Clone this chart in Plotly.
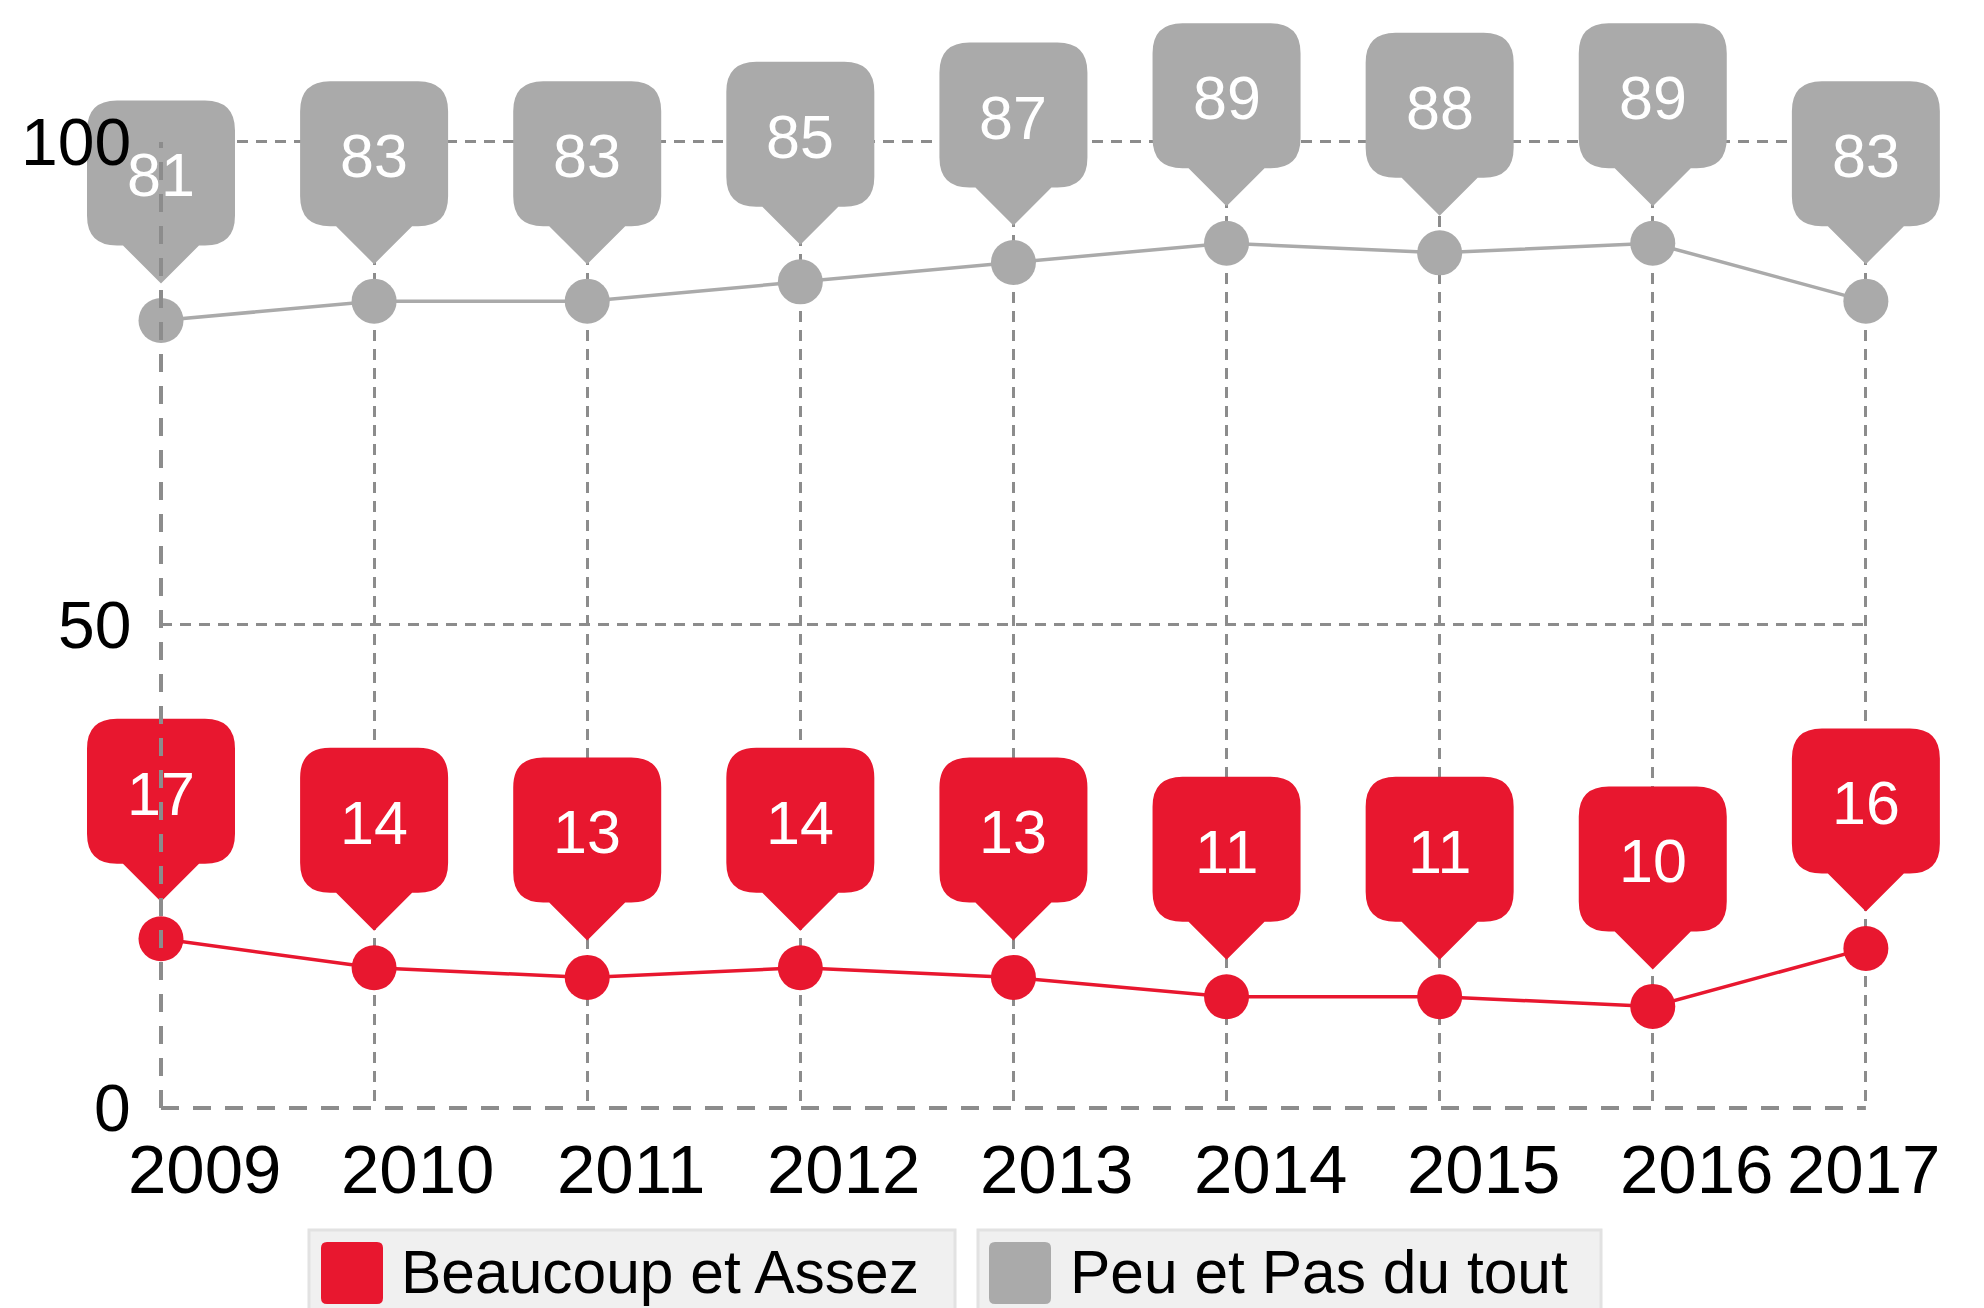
import plotly.graph_objects as go

# ---------------- data ----------------
years = [2009, 2010, 2011, 2012, 2013, 2014, 2015, 2016, 2017]
year_labels = ["2009", "2010", "2011", "2012", "2013", "2014", "2015", "2016", "2017"]
beaucoup_assez = [17, 14, 13, 14, 13, 11, 11, 10, 16]
peu_pas_du_tout = [81, 83, 83, 85, 87, 89, 88, 89, 83]
series_names = ["Beaucoup et Assez", "Peu et Pas du tout"]
y_ticks = [0, 50, 100]

# ---------------- style ----------------
RED = "#e8172f"
GREY = "#aaaaaa"
GRID = "#8c8c8c"
FONT = "Liberation Sans, Arial, Helvetica, sans-serif"

PAGE_OFF = 8  # default body margin of the html page
W, H = 1984 - PAGE_OFF, 1308 - PAGE_OFF
ML, MR, MT, MB = 161 - PAGE_OFF, 116, 140 - PAGE_OFF, 200
XR = [2009, 2017.01]
YR = [0, 100.2]
PW = W - ML - MR
PH = H - MT - MB
BASE_Y = H - MB  # figure pixel y of plot bottom

# the series layer sits a few pixels above the grid in the original
SHIFT_Y = 5
PXU_Y = PH / (YR[1] - YR[0])
YR2 = [YR[0] - SHIFT_Y / PXU_Y, YR[1] - SHIFT_Y / PXU_Y]


def xpaper(v):
    return (v - XR[0]) / (XR[1] - XR[0])


def ypaper2(v):
    return (v - YR2[0]) / (YR2[1] - YR2[0])


def px_x(px):  # px given in screen (page) coordinates
    return (px - PAGE_OFF - ML) / PW


def px_y(py):
    return (BASE_Y - (py - PAGE_OFF)) / PH


def bubble_path(w=148, h=145, r=30, tip=37, th=38, tw=38):
    L, R = -w / 2, w / 2
    B = tip + th
    T = B + h
    return (f"M 0,{tip} L {-tw},{B} L {L + r},{B} Q {L},{B} {L},{B + r} "
            f"L {L},{T - r} Q {L},{T} {L + r},{T} L {R - r},{T} Q {R},{T} {R},{T - r} "
            f"L {R},{B + r} Q {R},{B} {R - r},{B} L {tw},{B} Z")


def rrect_path(x0, y0, x1, y1, r):
    # page pixel coords (y down) -> pixel offsets relative to plot origin (y up)
    a, b = x0 - PAGE_OFF - ML, BASE_Y - (y1 - PAGE_OFF)
    c, d = x1 - PAGE_OFF - ML, BASE_Y - (y0 - PAGE_OFF)
    if r <= 0:
        return f"M {a},{b} L {c},{b} L {c},{d} L {a},{d} Z"
    return (f"M {a + r},{b} L {c - r},{b} Q {c},{b} {c},{b + r} L {c},{d - r} "
            f"Q {c},{d} {c - r},{d} L {a + r},{d} Q {a},{d} {a},{d - r} "
            f"L {a},{b + r} Q {a},{b} {a + r},{b} Z")


fig = go.Figure()

for vals, name, col in [(peu_pas_du_tout, series_names[1], GREY),
                        (beaucoup_assez, series_names[0], RED)]:
    fig.add_trace(go.Scatter(
        x=years, y=vals, name=name, mode="lines+markers",
        xaxis="x", yaxis="y2",
        line=dict(color=col, width=3.5),
        marker=dict(color=col, size=45),
        cliponaxis=False, showlegend=False, hoverinfo="x+y+name",
    ))

shapes = []
annotations = []

# bubbles
for vals, col in [(peu_pas_du_tout, GREY), (beaucoup_assez, RED)]:
    for yr, v in zip(years, vals):
        shapes.append(dict(
            type="path", xref="paper", yref="paper",
            xsizemode="pixel", ysizemode="pixel",
            xanchor=xpaper(yr), yanchor=ypaper2(v),
            path=bubble_path(), fillcolor=col, line=dict(width=0), layer="above",
        ))
        annotations.append(dict(
            x=yr, y=v, xref="x", yref="y", text=str(v), showarrow=False,
            yshift=145 + SHIFT_Y, xanchor="center", yanchor="middle",
            font=dict(family=FONT, size=61, color="white"),
        ))

# dashed axis lines (left and bottom), drawn on top
shapes.append(dict(type="line", xref="paper", yref="y", x0=0, x1=0, y0=0, y1=100,
                   line=dict(color=GRID, width=4, dash="18px,14px"), layer="above"))
shapes.append(dict(type="line", xref="x", yref="paper", x0=XR[0], x1=years[-1], y0=0, y1=0,
                   line=dict(color=GRID, width=4, dash="18px,14px"), layer="above"))

# y tick labels
for t in y_ticks:
    annotations.append(dict(
        x=0, y=t, xref="paper", yref="y", text=str(t), showarrow=False,
        xanchor="right", yanchor="middle", xshift=-28,
        font=dict(family=FONT, size=66, color="black"),
    ))

# x tick labels
for i, (yr, lab) in enumerate(zip(years, year_labels)):
    annotations.append(dict(
        x=yr, y=0, xref="x", yref="paper", text=lab, showarrow=False,
        xanchor="center", yanchor="middle",
        xshift=44 if i < len(years) - 1 else -2, yshift=-61,
        font=dict(family=FONT, size=69, color="black"),
    ))

# legend (two boxes)
legend_boxes = [(309, 955, 321, 399, RED), (978, 1601, 989, 1068, GREY)]
for (bx0, bx1, sx, tx, col), name in zip(legend_boxes, series_names):
    shapes.append(dict(type="path", xref="paper", yref="paper",
                       xsizemode="pixel", ysizemode="pixel", xanchor=0, yanchor=0,
                       path=rrect_path(bx0, 1230, bx1, 1340, 0),
                       fillcolor="#f0f0f0", line=dict(color="#e2e2e2", width=3),
                       layer="above"))
    shapes.append(dict(type="path", xref="paper", yref="paper",
                       xsizemode="pixel", ysizemode="pixel", xanchor=0, yanchor=0,
                       path=rrect_path(sx, 1242, sx + 62, 1304, 6),
                       fillcolor=col, line=dict(width=0), layer="above"))
    annotations.append(dict(
        x=px_x(tx), y=px_y(1272), xref="paper", yref="paper", text=name,
        showarrow=False, xanchor="left", yanchor="middle",
        font=dict(family=FONT, size=60.5, color="black"),
    ))

fig.update_layout(
    width=W, height=H,
    margin=dict(l=ML, r=MR, t=MT, b=MB, autoexpand=False),
    paper_bgcolor="white", plot_bgcolor="white",
    showlegend=False,
    shapes=shapes, annotations=annotations,
    font=dict(family=FONT),
    xaxis=dict(range=XR, tickvals=years, showticklabels=False, showgrid=True,
               gridcolor=GRID, gridwidth=3, griddash="11px,8px",
               zeroline=False, showline=False, ticks=""),
    yaxis=dict(range=YR, tickvals=y_ticks, showticklabels=False, showgrid=True,
               gridcolor=GRID, gridwidth=3, griddash="11px,8px",
               zeroline=False, showline=False, ticks=""),
    yaxis2=dict(range=YR2, overlaying="y", visible=False, showgrid=False,
                zeroline=False),
)

fig.write_html("out.html", config={"displayModeBar": False})
